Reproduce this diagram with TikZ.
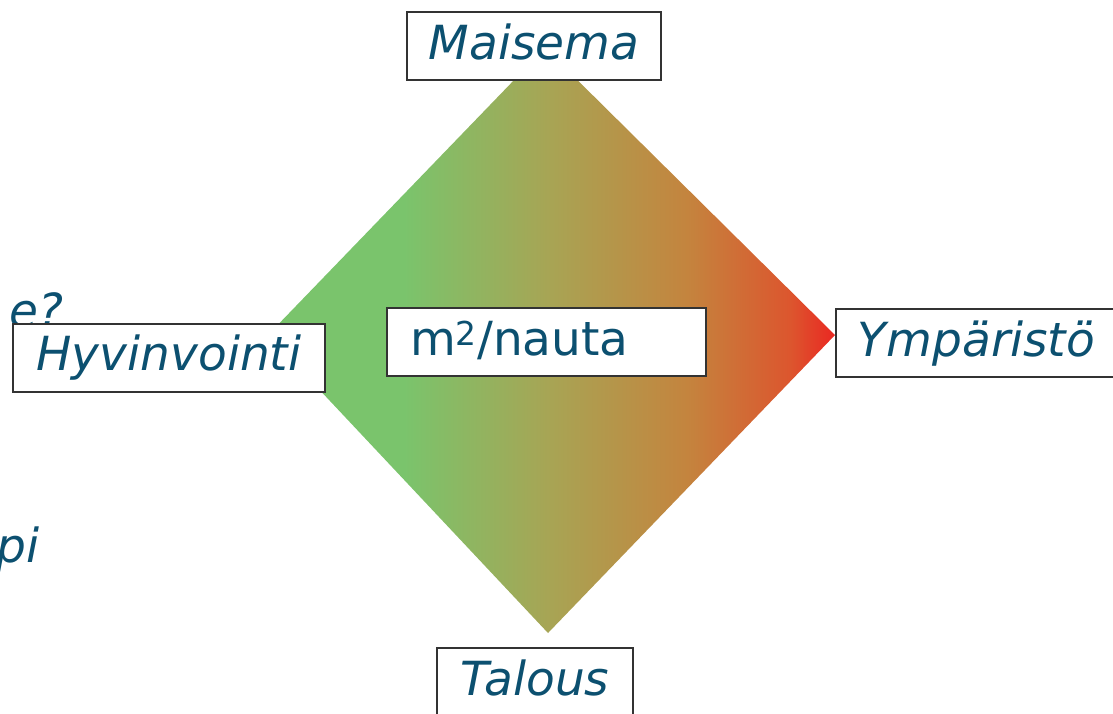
\documentclass[tikz,border=0pt]{standalone}
\usepackage{fontspec}
\setmainfont{DejaVu Sans}
\usepackage{tikz}

\definecolor{LabelBlue}{RGB}{12,80,112}
\definecolor{FadeGreen}{RGB}{122,196,108}
\definecolor{FadeOlive}{RGB}{168,164,84}
\definecolor{FadeBrown}{RGB}{196,132,62}
\definecolor{FadeOrange}{RGB}{220,86,46}
\definecolor{FadeRed}{RGB}{234,40,34}

\pgfdeclarehorizontalshading{greentored}{100bp}{color(0bp)=(FadeGreen); color(37bp)=(FadeGreen);
    color(50bp)=(FadeOlive); color(62bp)=(FadeBrown); color(71bp)=(FadeOrange);
    color(75bp)=(FadeRed); color(100bp)=(FadeRed)}

\begin{document}
\begin{tikzpicture}[x=1pt, y=-1pt,
        labelbox/.style={draw=black!80, line width=2pt, fill=white, inner sep=0pt,
            text=LabelBlue, font=\fontsize{47}{52}\selectfont\itshape,
            text height=35pt, text depth=9pt, minimum height=68pt},
        cuttext/.style={text=LabelBlue, font=\fontsize{47}{52}\selectfont\itshape,
            inner sep=0pt, anchor=base east}]
        \useasboundingbox (0,0) rectangle (1113,713);

        % Diamond --  --  --  --  --  --  --  --  --  --  --  --  --  --
        \coordinate (top) at (545, 48);
        \coordinate (left) at (268, 335);
        \coordinate (bottom) at (548, 633);
        \coordinate (right) at (835, 335);
        \shade[shading=greentored] (top) -- (right) -- (bottom) -- (left) -- cycle;
        %  --  --  --  --  --  --  --  --  --  --  --  --  --  --  --  --

        % Text cut off at the left edge
        \node[cuttext] (cutq) at (64, 327) {e?};
        \node[cuttext] (cutpi) at (40, 562) {pi};

        % Labels --  --  --  --  --  --  --  --  --  --  --  --  --  --  -
        \node[labelbox, minimum width=254pt] (maisema) at (534, 46) {Maisema};
        \node[labelbox, minimum width=312pt] (hyvinvointi) at (169, 357.5) {Hyvinvointi};
        \node[labelbox, minimum width=281pt] (ymparisto) at (976.5, 343) {Ympäristö};
        \node[labelbox, minimum width=196pt] (talous) at (535, 682) {Talous};

        % Centre
        \node[labelbox, font=\fontsize{47}{52}\selectfont, inner xsep=23pt,
            text width=273pt, align=left] (nauta) at (546.5, 342) {m\textsuperscript{2}/nauta};
        %  --  --  --  --  --  --  --  --  --  --  --  --  --  --  --  --
    \end{tikzpicture}
\end{document}
